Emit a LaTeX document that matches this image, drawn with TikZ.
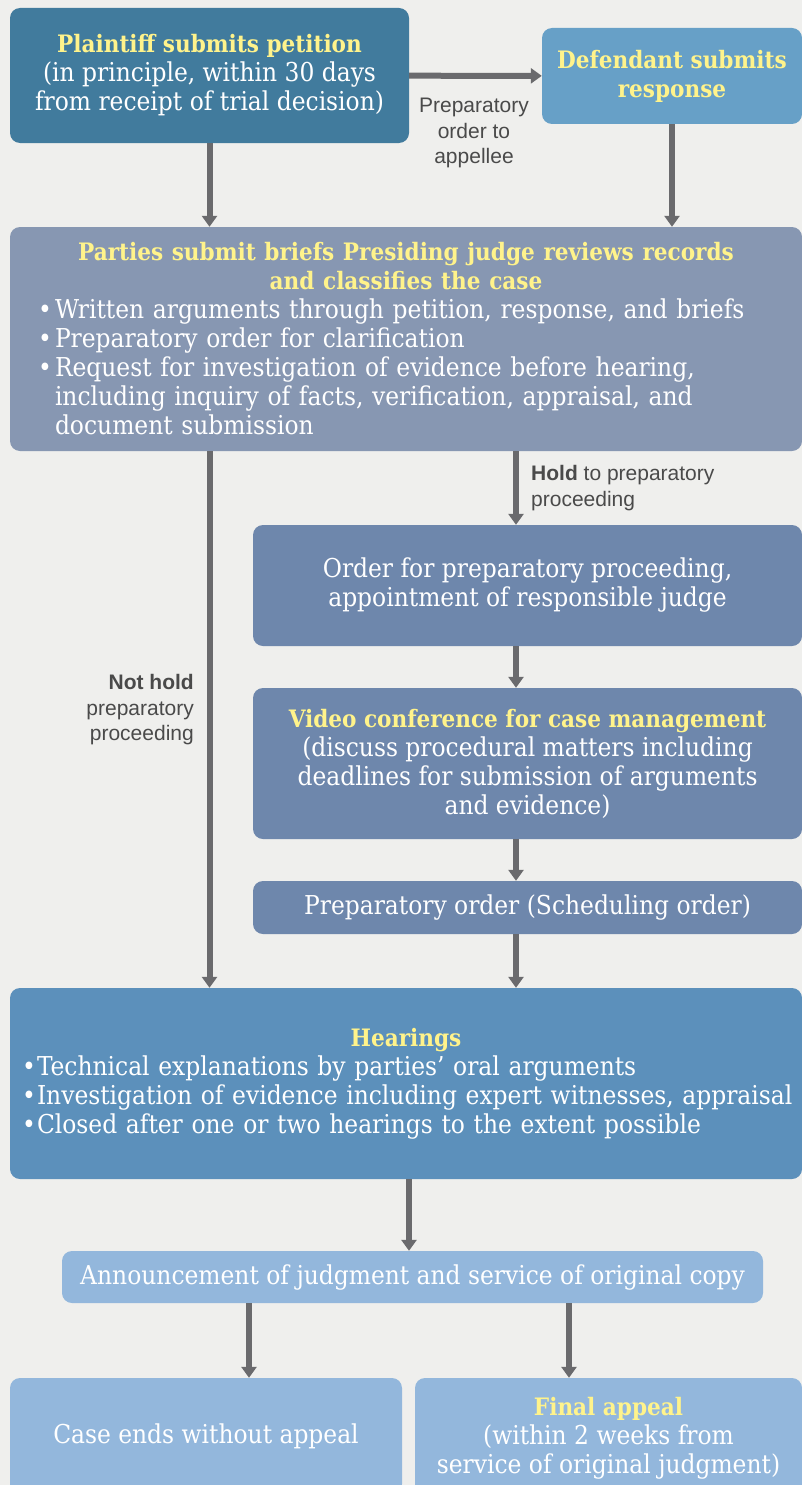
\documentclass[tikz,border=0pt]{standalone}
\usepackage{fontspec}
\setmainfont{DejaVu Serif Condensed}
\newfontfamily\labelfont{Liberation Sans}
\usetikzlibrary{arrows.meta,positioning}
\definecolor{bgcol}{HTML}{EFEFED}
\definecolor{plaincol}{HTML}{417B9D}
\definecolor{defcol}{HTML}{67A0C7}
\definecolor{briefcol}{HTML}{8797B2}
\definecolor{prepcol}{HTML}{6E87AC}
\definecolor{hearcol}{HTML}{5C90BB}
\definecolor{endcol}{HTML}{93B7DC}
\definecolor{arrcol}{HTML}{6A6A6D}
\definecolor{titlecol}{HTML}{FFF38B}
\definecolor{labelcol}{HTML}{4A4A4A}
\newcommand{\ttl}[1]{{\color{titlecol}\bfseries\fontsize{24}{29}\selectfont #1}}
\newcommand{\bline}[3]{\par\noindent\hspace*{#1}\rlap{\textbullet}\hspace*{#2}\rlap{#3}\par}
\newcommand{\contline}[2]{\par\noindent\hspace*{#1}\rlap{#2}\par}
\begin{document}
\begin{tikzpicture}[x=1pt,y=-1pt,
  every node/.style={inner sep=0pt},
  box/.style={rounded corners=10pt,text=white,align=center,
    font={\fontsize{26}{29}\selectfont}},
  lbl/.style={text=labelcol,font={\labelfont\fontsize{21}{25.5}\selectfont}},
  arr/.style={draw=arrcol,line width=6pt,-{Triangle[width=15pt,length=11pt]}}]
\fill[bgcol] (0,0) rectangle (802,1485);
\clip (0,0) rectangle (802,1485);

\node[box,fill=plaincol,minimum width=399,minimum height=135] (plaintiff) at (209.5,75.5)
  {\ttl{Plaintiff submits petition}\\(in principle, within 30 days\\from receipt of trial decision)};
\node[box,fill=defcol,minimum width=260,minimum height=96] (defendant) at (672,76)
  {\ttl{Defendant submits}\\\ttl{response}};
\node[lbl,align=center] (appellee) at (474,133) {Preparatory\\order to\\appellee};

\node[box,fill=briefcol,minimum width=792,minimum height=224,text width=790,align=left] (briefs) at (406,339)
  {{\centering\ttl{Parties submit briefs Presiding judge reviews records}\\\ttl{and classifies the case}\par}
   \bline{27pt}{17pt}{Written arguments through petition, response, and briefs}
   \bline{27pt}{17pt}{Preparatory order for clarification}
   \bline{27pt}{17pt}{Request for investigation of evidence before hearing,}
   \contline{44pt}{including inquiry of facts, verification, appraisal, and}
   \contline{44pt}{document submission}};

\coordinate (holdx) at (516,0);
\node[lbl,anchor=west,align=left] (hold) at (531,488) {\textbf{Hold} to preparatory\\proceeding};
\node[lbl,anchor=east,align=right] (nothold) at (194,710) {\textbf{Not hold}\\preparatory\\proceeding};

\node[box,fill=prepcol,minimum width=549,minimum height=121] (order) at (527.5,585.5)
  {Order for preparatory proceeding,\\appointment of responsible judge};
\node[box,fill=prepcol,minimum width=549,minimum height=151] (video) at (527.5,763.5)
  {\ttl{Video conference for case management}\\(discuss procedural matters including\\deadlines for submission of arguments\\and evidence)};
\node[box,fill=prepcol,minimum width=549,minimum height=53] (sched) at (527.5,907.5)
  {Preparatory order (Scheduling order)};

\node[box,fill=hearcol,minimum width=792,minimum height=191,text width=790,align=left] (hearings) at (406,1083.5)
  {{\centering\ttl{Hearings}\par}
   \bline{11pt}{15pt}{Technical explanations by parties’ oral arguments}
   \bline{11pt}{15pt}{Investigation of evidence including expert witnesses, appraisal}
   \bline{11pt}{15pt}{Closed after one or two hearings to the extent possible}};

\coordinate (hearx) at (409,0);
\node[box,fill=endcol,minimum width=701,minimum height=52] (announce) at (412.5,1277)
  {Announcement of judgment and service of original copy};
\coordinate (endx) at (249,0);
\coordinate (appealx) at (569,0);
\node[box,fill=endcol,minimum width=392,minimum height=116] (caseend) at (206,1436)
  {Case ends without appeal};
\node[box,fill=endcol,minimum width=387,minimum height=120] (appeal) at (608.5,1438)
  {\ttl{Final appeal}\\(within 2 weeks from\\service of original judgment)};

\draw[arr] (plaintiff) -- (defendant);
\draw[arr] (plaintiff.south) -- (plaintiff.south |- briefs.north);
\draw[arr] (defendant.south) -- (defendant.south |- briefs.north);
\draw[arr] (briefs.south -| holdx) -- (order.north -| holdx);
\draw[arr] (order.south -| holdx) -- (video.north -| holdx);
\draw[arr] (video.south -| holdx) -- (sched.north -| holdx);
\draw[arr] (sched.south -| holdx) -- (hearings.north -| holdx);
\draw[arr] (briefs.south -| plaintiff.south) -- (hearings.north -| plaintiff.south);
\draw[arr] (hearings.south -| hearx) -- (announce.north -| hearx);
\draw[arr] (announce.south -| endx) -- (caseend.north -| endx);
\draw[arr] (announce.south -| appealx) -- (appeal.north -| appealx);
\end{tikzpicture}
\end{document}
